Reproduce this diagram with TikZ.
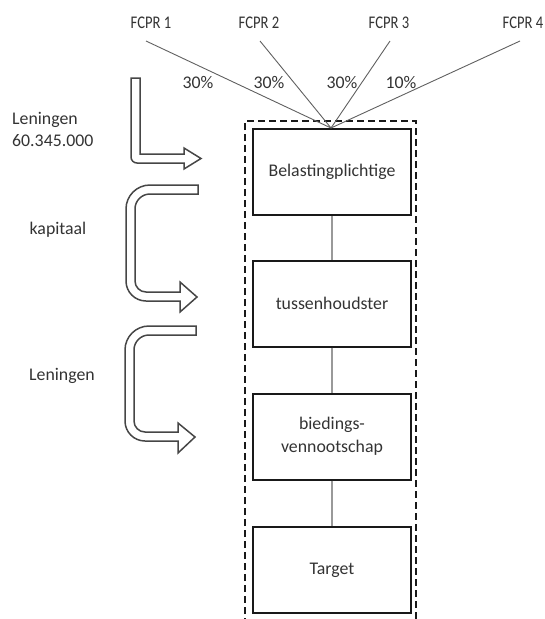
\documentclass[tikz,border=0pt]{standalone}
\usepackage{fontspec}
\setmainfont{Carlito}
\begin{document}
\begin{tikzpicture}[x=1pt,y=-1pt,
  txt/.style={font=\fontsize{17.8}{22}\selectfont, text=black!80, inner sep=0pt},
  ptxt/.style={font=\fontsize{17.8}{22}\selectfont, text=black!80, inner sep=0pt},
  entity/.style={draw=black!90, line width=2pt, minimum width=158pt, minimum height=86pt,
    font=\fontsize{17.8}{23}\selectfont, text=black!80, align=center, inner sep=0pt},
  frame/.style={draw=black!90, line width=2pt, dash pattern=on 7pt off 4pt},
  conn/.style={draw=gray!80, line width=1.2pt},
  fline/.style={draw=gray!75!black, line width=0.9pt},
  bigarrow/.style={draw=gray!55!black, line width=1.5pt, fill=white, line join=miter}]
\useasboundingbox (0,0) rectangle (544,619);

% dashed frame
\draw[frame] (245,625) -- (245,121) -- (416,121) -- (416,625);

% entities
\node[entity] (b1) at (332,172) {Belastingplichtige};
\node[entity] (b2) at (332,303.5) {tussenhoudster};
\node[entity] (b3) at (332,436.5) {biedings-\\vennootschap};
\node[entity] (b4) at (332,570) {Target};

\draw[conn] (b1.south) -- (b2.north);
\draw[conn] (b2.south) -- (b3.north);
\draw[conn] (b3.south) -- (b4.north);

% shareholders
\node[txt] (f1) at (151,23) {\scalebox{0.82}[1]{FCPR 1}};
\node[txt] (f2) at (259,23) {\scalebox{0.82}[1]{FCPR 2}};
\node[txt] (f3) at (389,23) {\scalebox{0.82}[1]{FCPR 3}};
\node[txt] (f4) at (523,23) {\scalebox{0.82}[1]{FCPR 4}};
\coordinate (s1) at (146,41);
\coordinate (s2) at (260,41);
\coordinate (s3) at (390,41);
\coordinate (s4) at (520,41);
\coordinate (apex) at (331,128);
\draw[fline] (s1) -- (apex);
\draw[fline] (s2) -- (apex);
\draw[fline] (s3) -- (apex);
\draw[fline] (s4) -- (apex);

\node[ptxt] (p1) at (198,82) {30\%};
\node[ptxt] (p2) at (269,82) {30\%};
\node[ptxt] (p3) at (342,82) {30\%};
\node[ptxt] (p4) at (401,82) {10\%};

% left labels
\node[txt, anchor=west, align=left] (l1) at (12,129) {Leningen\\60.345.000};
\node[txt] (l2) at (58,230) {kapitaal};
\node[txt] (l3) at (62,376) {Leningen};

% arrow 1 (L shape)
\draw[bigarrow] (131,78) -- (140,78) -- (140,154) -- (184,154) -- (184,148)
  -- (201,158.5) -- (184,169) -- (184,163) -- (137,163) arc(90:180:6) -- cycle;

% arrow 2 (C shape)
\draw[bigarrow] (198,185) -- (150,185) arc(270:180:24) -- (126,281) arc(180:90:20)
  -- (180,301) -- (180,312) -- (197,297) -- (180,282) -- (180,292) -- (146,292)
  arc(90:180:11) -- (135,209) arc(180:270:15) -- (198,194) -- cycle;

% arrow 3 (C shape)
\draw[bigarrow] (196,326) -- (149,326) arc(270:180:24) -- (125,421) arc(180:90:20)
  -- (178,441) -- (178,453) -- (195,437) -- (178,423) -- (178,432) -- (145,432)
  arc(90:180:11) -- (134,350) arc(180:270:15) -- (196,335) -- cycle;
\end{tikzpicture}
\end{document}
